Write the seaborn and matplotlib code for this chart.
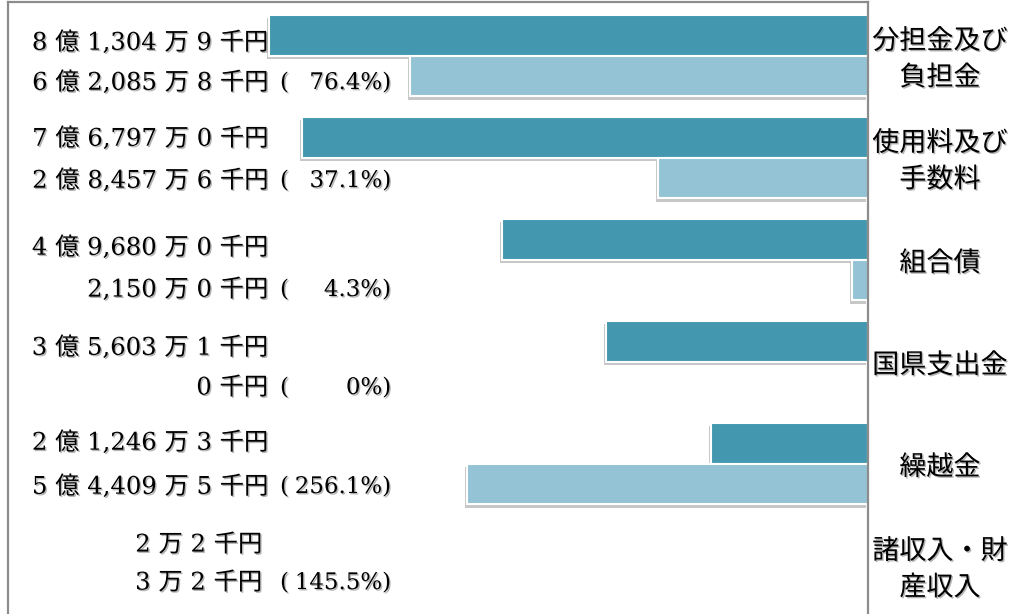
import numpy as np
import pandas as pd
import matplotlib
matplotlib.use("Agg")
import matplotlib.pyplot as plt
import matplotlib.patheffects as pe
from matplotlib.transforms import blended_transform_factory
import seaborn as sns

# ---------------- data (単位: 千円) ----------------
categories = ["分担金及び\n負担金", "使用料及び\n手数料", "組合債",
              "国県支出金", "繰越金", "諸収入・財\n産収入"]
series = ["予算額", "収入済額"]
budget = [813049, 767970, 496800, 356031, 212463, 22]
actual = [620858, 284576, 21500, 0, 544095, 32]

# ---------------- style ----------------
DARK = "#4398B0"
LIGHT = "#93C3D5"
SPINE = "#8C8C8C"
W, H = 1014, 614

sns.set_theme(style="white")
plt.rcParams["font.family"] = ["Noto Sans CJK JP", "DejaVu Sans"]

LEFT_FONT = ["DejaVu Serif", "Noto Sans CJK JP"]
CAT_FONT = ["Noto Sans CJK JP", "DejaVu Sans"]


def fmt_amount(v):
    oku, rest = divmod(v, 100000)
    man, sen = divmod(rest, 10)
    parts = []
    if oku:
        parts.append(f"{oku} 億")
    if oku or man:
        parts.append(f"{man:,} 万")
    parts.append(f"{sen} 千円")
    return " ".join(parts)


def fmt_pct(a, b):
    if a == 0:
        return "0%)"
    return f"{a / b * 100:.1f}%)"


df = pd.DataFrame({
    "区分": categories * 2,
    "種別": [series[0]] * len(categories) + [series[1]] * len(categories),
    "金額": budget + actual,
})

fig = plt.figure(figsize=(W / 100, H / 100), dpi=100)
ax = fig.add_axes([8 / W, 0, 860 / W, 612 / H])

sns.barplot(data=df, y="区分", x="金額", hue="種別", orient="h",
            palette=[DARK, LIGHT], saturation=1, width=0.8,
            edgecolor="white", linewidth=1.5, errorbar=None,
            legend=False, ax=ax)

ax.set_xlim(1.167e6, 0)
ax.set_ylim(5.475, -0.5245)
ax.set_xticks([])
ax.set_yticks([])
ax.set_xlabel("")
ax.set_ylabel("")
for side in ["top", "left", "right"]:
    ax.spines[side].set_visible(True)
    ax.spines[side].set_color(SPINE)
    ax.spines[side].set_linewidth(1.6)
ax.spines["bottom"].set_visible(False)

for p in ax.patches:
    p.set_path_effects([
        pe.SimplePatchShadow(offset=(-1.5, -2.5), shadow_rgbFace="black", alpha=0.22),
        pe.Normal(),
    ])

tr = blended_transform_factory(fig.transFigure, ax.transData)
px = 1 / 102.0  # one pixel in category units
text_shadow = [pe.SimplePatchShadow(offset=(1, -1), shadow_rgbFace="#777777", alpha=0.55),
               pe.Normal()]

line1_off = [-12.5, -18.5, -11.5, -13.5, -20.5, -20.5]
line2_off = [27.5, 23.5, 30.5, 26.5, 23.5, 17.5]
amount_right = [268, 268, 268, 268, 268, 262]
FS = 17.5
FS_PCT = 16.5

for i, cat in enumerate(categories):
    y1 = i + line1_off[i] * px
    y2 = i + line2_off[i] * px
    ax.text(amount_right[i] / W, y1, fmt_amount(budget[i]), transform=tr,
            ha="right", va="center", fontsize=FS, family=LEFT_FONT,
            color="black", path_effects=text_shadow, clip_on=False)
    ax.text(amount_right[i] / W, y2, fmt_amount(actual[i]), transform=tr,
            ha="right", va="center", fontsize=FS, family=LEFT_FONT,
            color="black", path_effects=text_shadow, clip_on=False)
    ax.text(280 / W, y2, "(", transform=tr, ha="left", va="center",
            fontsize=FS_PCT, family=LEFT_FONT, color="black",
            path_effects=text_shadow, clip_on=False)
    ax.text(391 / W, y2, fmt_pct(actual[i], budget[i]), transform=tr,
            ha="right", va="center", fontsize=FS_PCT, family=LEFT_FONT,
            color="black", path_effects=text_shadow, clip_on=False)
    ax.text(940 / W, i + 4 * px, cat, transform=tr, ha="center", va="center",
            multialignment="center", linespacing=1.45,
            fontsize=19.5, family=CAT_FONT, color="black",
            path_effects=text_shadow, clip_on=False)

fig.savefig("out.png", dpi=100)
